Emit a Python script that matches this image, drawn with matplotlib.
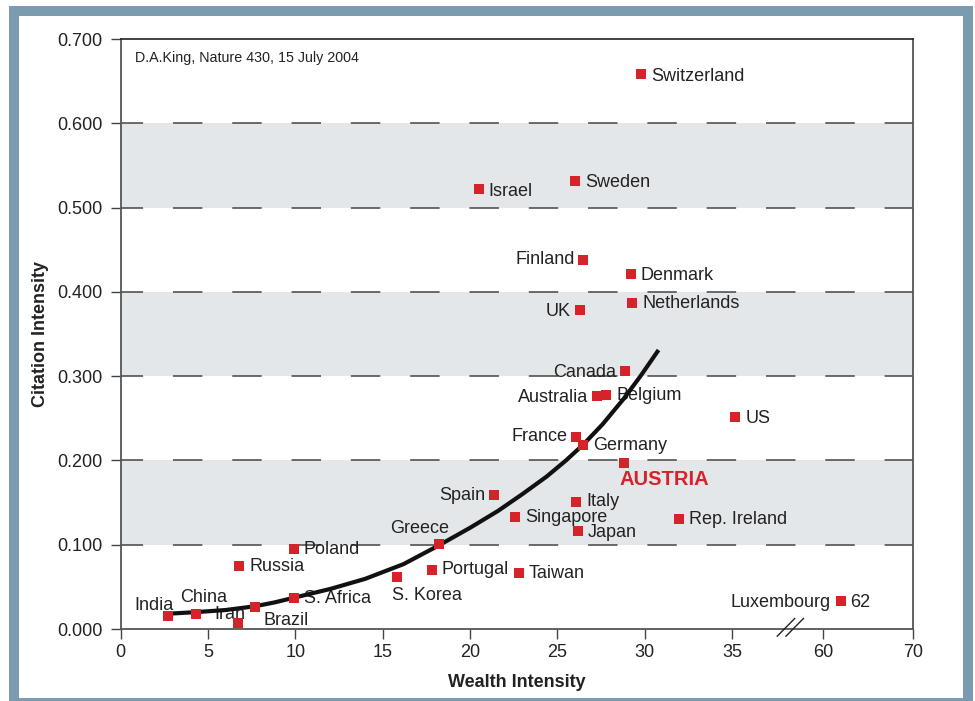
import matplotlib
matplotlib.use("Agg")
import matplotlib.pyplot as plt
from matplotlib.patches import Rectangle

plt.rcParams['font.family'] = ['Liberation Sans', 'DejaVu Sans']
plt.rcParams['lines.scale_dashes'] = False

# ---------------- data ----------------
countries = ["Switzerland", "Israel", "Sweden", "Finland", "Denmark", "Netherlands",
             "UK", "Canada", "Australia", "Belgium", "US", "France", "Germany",
             "AUSTRIA", "Spain", "Italy", "Singapore", "Japan", "Rep. Ireland",
             "Greece", "Poland", "Russia", "Portugal", "Taiwan", "S. Korea",
             "S. Africa", "Brazil", "China", "India", "Iran", "Luxembourg"]
wealth = [29.8, 20.5, 26.0, 26.5, 29.2, 29.3,
          26.3, 28.9, 27.3, 27.8, 35.2, 26.1, 26.5,
          28.8, 21.4, 26.1, 22.6, 26.2, 32.0,
          18.2, 9.9, 6.8, 17.8, 22.8, 15.8,
          9.9, 7.7, 4.3, 2.7, 6.7, 62.0]
citation = [0.658, 0.522, 0.531, 0.438, 0.421, 0.387,
            0.378, 0.306, 0.276, 0.278, 0.251, 0.228, 0.218,
            0.197, 0.159, 0.151, 0.133, 0.116, 0.131,
            0.101, 0.095, 0.075, 0.070, 0.066, 0.062,
            0.037, 0.026, 0.018, 0.015, 0.007, 0.033]

# trend curve, points
curve_x = [2.6, 4.3, 6.0, 7.7, 8.8, 9.9, 12.0, 14.0, 16.2, 18.2, 20.0, 21.6,
           23.0, 24.4, 25.5, 26.5, 27.6, 28.8, 29.8, 30.8]
curve_y = [0.018, 0.020, 0.0225, 0.027, 0.0315, 0.037, 0.0475, 0.0595, 0.077, 0.099,
           0.120, 0.140, 0.160, 0.181, 0.200, 0.219, 0.243, 0.273, 0.301, 0.331]

xtick_values = [0, 5, 10, 15, 20, 25, 30, 35, 60, 70]
ytick_values = [0.0, 0.1, 0.2, 0.3, 0.4, 0.5, 0.6, 0.7]
band_ranges = [(0.1, 0.2), (0.3, 0.4), (0.5, 0.6)]
credit = "D.A.King, Nature 430, 15 July 2004"


def to_u(x):
    """broken x axis: 0-35 linear, 60-70 compressed after the break"""
    return x if x <= 40 else 40.22 + (x - 60) * 0.517


# label placement (offset pixels from marker, ha)
label_style = {
    "Switzerland": (10, 0, 'left'), "Israel": (10, 0, 'left'), "Sweden": (10, 1, 'left'),
    "Finland": (-9, 2, 'right'), "Denmark": (10, 1, 'left'), "Netherlands": (10, 1, 'left'),
    "UK": (-9, 1, 'right'), "Canada": (-9, 1, 'right'), "Australia": (-9, 1, 'right'),
    "Belgium": (10, 1, 'left'), "US": (10, 1, 'left'), "France": (-9, 2, 'right'),
    "Germany": (10, 2, 'left'), "AUSTRIA": (-4, -15, 'left'), "Spain": (-9, 1, 'right'),
    "Italy": (10, 2, 'left'), "Singapore": (10, 1, 'left'), "Japan": (10, 1, 'left'),
    "Rep. Ireland": (10, 1, 'left'), "Greece": (11, 17, 'right'), "Poland": (10, 1, 'left'),
    "Russia": (10, 1, 'left'), "Portugal": (10, 2, 'left'), "Taiwan": (10, 2, 'left'),
    "S. Korea": (-5, -17, 'left'), "S. Africa": (10, 1, 'left'), "Brazil": (8, -11, 'left'),
    "China": (8, 18, 'center'), "India": (6, 13, 'right'), "Iran": (-8, 11, 'center'),
    "Luxembourg": (-10, 1, 'right'),
}

RED = "#d6232a"
TXT = "#222222"
BLUE = "#7b9bb0"

fig = plt.figure(figsize=(9.75, 7.01), dpi=100, facecolor="white")
W, H = 975.0, 701.0
fig.patches.append(Rectangle((9 / W, 0), (973 - 9) / W, (701 - 6) / H,
                             transform=fig.transFigure, facecolor=BLUE, edgecolor='none', zorder=-10))
fig.patches.append(Rectangle((19 / W, 3 / H), (963 - 19) / W, (698 - 16) / H,
                             transform=fig.transFigure, facecolor='white', edgecolor='none', zorder=-9))

ax = fig.add_axes([120.7 / W, 1 - 629 / H, (913.3 - 120.7) / W, (629 - 39) / H])
ax.set_facecolor('none')
ax.set_xlim(0, to_u(70))
ax.set_ylim(0, 0.7)

for lo, hi in band_ranges:
    ax.axhspan(lo, hi, facecolor="#e4e7ea", edgecolor='none', zorder=0)
for yv in ytick_values[1:-1]:
    ax.axhline(yv, color="#444444", lw=1.1, linestyle=(5.3, (21.2, 21.5)), zorder=1)

ux = [to_u(v) for v in wealth]
ax.plot(curve_x, curve_y, color="#111111", lw=3.0, solid_capstyle='butt',
        solid_joinstyle='round', zorder=4)
ax.scatter(ux, citation, marker='s', s=52, color=RED, linewidths=0, zorder=5)

for name, u, c in zip(countries, ux, citation):
    dx, dy, ha = label_style[name]
    if name == "AUSTRIA":
        ax.annotate(name, (u, c), xytext=(dx, dy), textcoords='offset pixels', ha=ha,
                    va='center_baseline', fontsize=14.5, fontweight='bold', color=RED, zorder=3)
    else:
        ax.annotate(name, (u, c), xytext=(dx, dy), textcoords='offset pixels', ha=ha,
                    va='center_baseline', fontsize=13, color=TXT, zorder=3)
lux_i = countries.index("Luxembourg")
ax.annotate("62", (ux[lux_i], citation[lux_i]), xytext=(9, 1), textcoords='offset pixels',
            ha='left', va='center_baseline', fontsize=13, color=TXT, zorder=3)

ax.text(0.018, 0.968, credit, transform=ax.transAxes, fontsize=10.3, color=TXT,
        ha='left', va='center')

# break marks
for x0 in (37.6, 38.1):
    ax.plot([x0, x0 + 1.0], [-0.0085, 0.0125], color="#222222", lw=1.0, clip_on=False, zorder=6)

ax.set_xticks([to_u(v) for v in xtick_values])
ax.set_xticklabels([str(v) for v in xtick_values])
ax.set_yticks(ytick_values)
ax.set_yticklabels([f"{v:.3f}" for v in ytick_values])
ax.tick_params(axis='both', direction='out', length=7, width=1.0, color="#444444",
               labelsize=13, labelcolor=TXT)
ax.tick_params(axis='x', pad=4)
ax.tick_params(axis='y', pad=6)
for side in ('left', 'right', 'bottom'):
    ax.spines[side].set_color("#555555")
    ax.spines[side].set_linewidth(1.3)
ax.spines['top'].set_color("#222222")
ax.spines['top'].set_linewidth(1.2)

ax.set_xlabel("Wealth Intensity", fontsize=13, fontweight='bold', color=TXT, labelpad=9)
ax.set_ylabel("Citation Intensity", fontsize=13, fontweight='bold', color=TXT, labelpad=6)

fig.savefig("out.png", dpi=100, facecolor="white")
